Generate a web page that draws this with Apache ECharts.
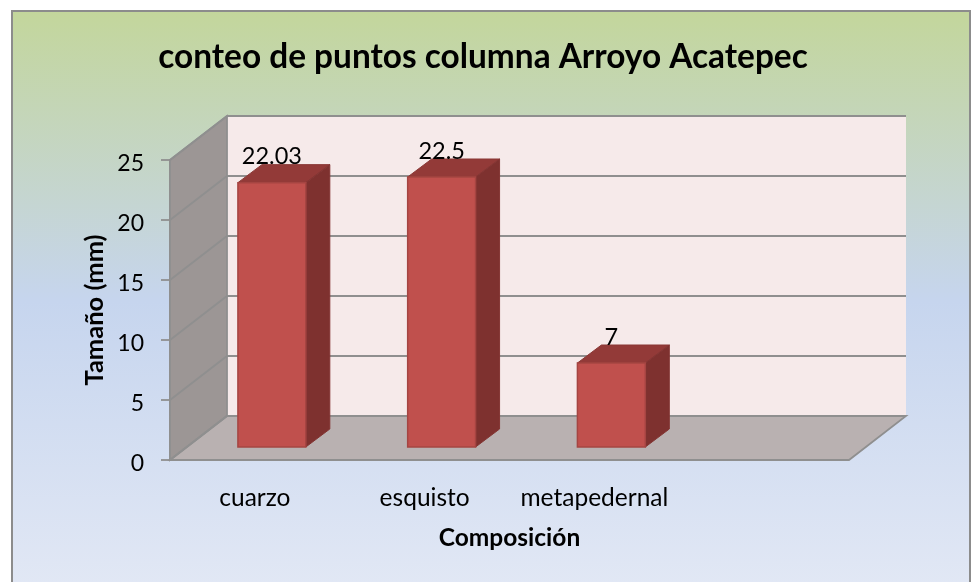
<!DOCTYPE html>
<html>
<head>
<meta charset="utf-8">
<style>
  html, body { margin: 0; padding: 0; background: #fff; }
  #chart { width: 977px; height: 582px; }
</style>
<script src="https://cdn.jsdelivr.net/npm/echarts@6/dist/echarts.min.js"></script>
</head>
<body>
<div id="chart"></div>
<script>
// datos
var categories = ['cuarzo', 'esquisto', 'metapedernal', ''];
var sizes = [22.03, 22.5, 7];
var sizeLabels = ['22.03', '22.5', '7'];
var yTicks = [0, 5, 10, 15, 20, 25];

// profundidad del efecto 3D, en pixeles
var WALL_DX = 57;
var WALL_DY = -44;
var BAR_DX = 24;
var BAR_DY = -18;
var BAR_SHIFT_X = 17;
var BAR_SHIFT_Y = -13;
var FONT = 'Lato, "Noto Sans", sans-serif';
var LINE = '#8f8f8f';

function poly(points, fill, stroke, lineWidth) {
  return {
    type: 'polygon',
    shape: { points: points },
    style: { fill: fill, stroke: stroke || null, lineWidth: lineWidth || 0 }
  };
}

// paredes y piso
function renderWalls(params, api) {
  var a = api.coord([0, 0]);
  var t = api.coord([0, 25]);
  var w = api.size([1, 0])[0] * categories.length;
  var x0 = a[0] - api.size([1, 0])[0] / 2;
  var y0 = a[1];
  var y1 = t[1];
  return {
    type: 'group',
    children: [
      poly([[x0 + WALL_DX, y1 + WALL_DY], [x0 + w + WALL_DX, y1 + WALL_DY], [x0 + w + WALL_DX, y0 + WALL_DY], [x0 + WALL_DX, y0 + WALL_DY]], '#f6eaea'),
      poly([[x0, y0], [x0 + WALL_DX, y0 + WALL_DY], [x0 + WALL_DX, y1 + WALL_DY], [x0, y1]], '#9c9695', LINE, 1.8),
      poly([[x0, y0], [x0 + w, y0], [x0 + w + WALL_DX, y0 + WALL_DY], [x0 + WALL_DX, y0 + WALL_DY]], '#b9b1b1', LINE, 1.8)
    ]
  };
}

// lineas de cuadricula sobre pared lateral y pared del fondo
function renderGrid(params, api) {
  var band = api.size([1, 0])[0];
  var p = api.coord([0, api.value(0)]);
  var x0 = p[0] - band / 2;
  var y = p[1];
  var x1 = x0 + band * categories.length + WALL_DX;
  return {
    type: 'polyline',
    shape: { points: [[x0, y], [x0 + WALL_DX, y + WALL_DY], [x1, y + WALL_DY]] },
    style: { fill: null, stroke: LINE, lineWidth: 1.8 }
  };
}

// columna con cara frontal, superior y lateral
function renderBar(params, api) {
  var top = api.coord([api.value(0), api.value(1)]);
  var base = api.coord([api.value(0), 0]);
  var bw = api.size([1, 0])[0] * 0.4;
  var l = top[0] - bw / 2 + BAR_SHIFT_X;
  var r = l + bw;
  var ty = top[1] + BAR_SHIFT_Y;
  var by = base[1] + BAR_SHIFT_Y;
  return {
    type: 'group',
    children: [
      poly([[l, ty], [r, ty], [r + BAR_DX, ty + BAR_DY], [l + BAR_DX, ty + BAR_DY]], '#933a38', '#8a3735', 1),
      poly([[r, ty], [r + BAR_DX, ty + BAR_DY], [r + BAR_DX, by + BAR_DY], [r, by]], '#7e312f', '#843533', 1),
      poly([[l, ty], [r, ty], [r, by], [l, by]], '#c0504d', '#a54542', 1.5),
      {
        type: 'text',
        style: {
          text: sizeLabels[params.dataIndex],
          x: (l + r) / 2,
          y: ty - 26,
          align: 'center',
          verticalAlign: 'middle',
          fill: '#000',
          font: '23.5px ' + FONT
        }
      }
    ]
  };
}

var chart = echarts.init(document.getElementById('chart'));

chart.setOption({
  animation: false,
  backgroundColor: '#fff',
  title: {
    text: 'conteo de puntos columna Arroyo Acatepec',
    left: 478,
    top: 36,
    textAlign: 'center',
    textStyle: { fontFamily: FONT, fontSize: 33.4, fontWeight: 'bold', color: '#000' }
  },
  graphic: [{
    type: 'rect',
    z: -10,
    shape: { x: 12, y: 11, width: 958, height: 580 },
    style: {
      stroke: '#8c8c8c',
      lineWidth: 2,
      fill: {
        type: 'linear', x: 0, y: 0, x2: 0, y2: 1,
        colorStops: [
          { offset: 0, color: '#c3d69b' },
          { offset: 0.5, color: '#c6d5ee' },
          { offset: 1, color: '#e2e8f5' }
        ]
      }
    }
  }],
  grid: { left: 170, right: 128, top: 160, height: 300 },
  xAxis: {
    type: 'category',
    data: categories,
    name: 'Composición',
    nameLocation: 'middle',
    nameGap: 66,
    nameTextStyle: { fontFamily: FONT, fontSize: 24.5, fontWeight: 'bold', color: '#000' },
    axisLine: { show: false },
    axisTick: { show: false },
    axisLabel: { margin: 26, fontFamily: FONT, fontSize: 24.5, color: '#000', interval: 0 }
  },
  yAxis: {
    type: 'value',
    min: 0,
    max: 25,
    interval: 5,
    name: 'Tamaño (mm)',
    nameLocation: 'middle',
    nameGap: 62,
    nameMoveOverlap: false,
    nameTextStyle: { fontFamily: FONT, fontSize: 25.5, fontWeight: 'bold', color: '#000' },
    axisLine: { show: true, lineStyle: { color: LINE, width: 1.8 } },
    axisTick: { show: true, length: 9, lineStyle: { color: LINE, width: 1.8 } },
    axisLabel: { margin: 26, verticalAlign: 'top', lineHeight: 8, fontFamily: FONT, fontSize: 23, color: '#000' },
    splitLine: { show: false }
  },
  series: [
    { type: 'custom', z: 1, coordinateSystem: 'cartesian2d', data: [[0]], encode: { x: 0 }, clip: false, silent: true, renderItem: renderWalls },
    { type: 'custom', z: 2, coordinateSystem: 'cartesian2d', data: yTicks.map(function (v) { return [v]; }), encode: { y: 0 }, clip: false, silent: true, renderItem: renderGrid },
    { type: 'custom', z: 3, coordinateSystem: 'cartesian2d', data: sizes.map(function (v, i) { return [i, v]; }), encode: { x: 0, y: 1 }, clip: false, renderItem: renderBar }
  ]
});
</script>
</body>
</html>
